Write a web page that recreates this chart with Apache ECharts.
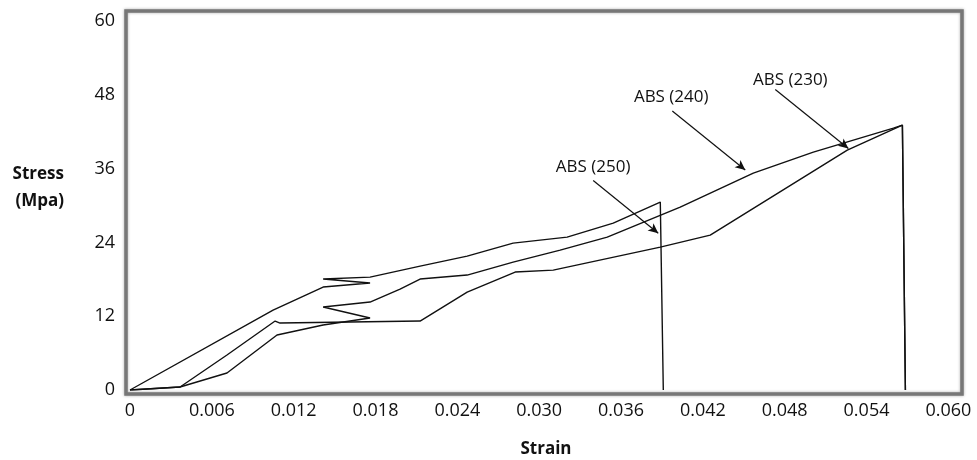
<!DOCTYPE html>
<html>
<head>
<meta charset="utf-8">
<script src="https://cdn.jsdelivr.net/npm/echarts@6/dist/echarts.min.js"></script>
<style>
  html, body { margin: 0; padding: 0; background: #fff; }
  #chart { width: 977px; height: 460px; }
</style>
</head>
<body>
<div id="chart"></div>
<script>
// Stress–strain curves of ABS specimens printed at three temperatures
const strain250 = [0, 0.01049, 0.01416, 0.01760, 0.01416, 0.01760, 0.02127, 0.02472, 0.02809, 0.03205, 0.03543, 0.03888, 0.03910];
const stress250 = [0, 13.0, 16.75, 17.40, 18.05, 18.37, 20.16, 21.79, 23.90, 24.88, 27.15, 30.57, 0];

const strain240 = [0, 0.00367, 0.00711, 0.01078, 0.01416, 0.01760, 0.01416, 0.01760, 0.01980, 0.02127, 0.02472, 0.02809, 0.03154, 0.03499, 0.04034, 0.04570, 0.05010, 0.05597, 0.05663, 0.05685];
const stress240 = [0, 0.49, 2.76, 8.94, 10.57, 11.71, 13.50, 14.31, 16.42, 18.05, 18.70, 20.81, 22.76, 24.88, 29.76, 35.28, 38.70, 42.60, 43.09, 0];

const strain230 = [0, 0.00367, 0.00711, 0.01064, 0.01100, 0.02127, 0.02472, 0.02824, 0.03103, 0.03888, 0.04254, 0.05259, 0.05663, 0.05685];
const stress230 = [0, 0.49, 5.69, 11.22, 10.89, 11.22, 15.93, 19.19, 19.51, 23.25, 25.20, 39.02, 43.09, 0];

// Callout labels with arrows: text anchor, arrow tail and arrow head (strain, stress)
const calloutText = ['ABS (250)', 'ABS (240)', 'ABS (230)'];
const calloutAt   = [[0.03396, 36.3], [0.03968, 47.6], [0.04841, 50.4]];
const arrowFrom   = [[0.03396, 34.1], [0.03976, 45.4], [0.04731, 48.9]];
const arrowTo     = [[0.03873, 25.5], [0.04511, 35.8], [0.05267, 39.3]];

// Axis ticks
const strainTicks = { min: 0, max: 0.061, step: 0.006 };
const stressTicks = { min: 0, max: 61.5, step: 12 };

const zip = (xs, ys) => xs.map((x, i) => [x, ys[i]]);

const FONT = '"Open Sans", "Noto Sans", sans-serif';
const TEXT = '#111';
const curveStyle = { color: '#111', width: 1.4 };

const chart = echarts.init(document.getElementById('chart'), null, { renderer: 'canvas' });

const curves = [
  ['ABS (250)', zip(strain250, stress250)],
  ['ABS (240)', zip(strain240, stress240)],
  ['ABS (230)', zip(strain230, stress230)]
].map(([name, data]) => ({
  name, type: 'line', data,
  showSymbol: false, symbol: 'none', smooth: false,
  lineStyle: curveStyle, silent: true, animation: false
}));

const option = {
  backgroundColor: '#fff',
  animation: false,
  grid: { left: 130, right: 15, top: 12, bottom: 70, containLabel: false, outerBoundsMode: 'none' },
  // Plot frame
  graphic: [{
    type: 'rect',
    shape: { x: 126, y: 11, width: 836, height: 383 },
    style: { fill: 'none', stroke: '#777', lineWidth: 3.5, shadowBlur: 3, shadowColor: 'rgba(0,0,0,0.35)' },
    z: 10
  }],
  xAxis: {
    type: 'value',
    min: strainTicks.min, max: strainTicks.max, interval: strainTicks.step,
    name: 'Strain', nameLocation: 'middle', nameGap: 51,
    nameTextStyle: { fontFamily: FONT, fontWeight: 'bold', fontSize: 17, color: TEXT },
    axisLine: { show: false }, axisTick: { show: false }, splitLine: { show: false },
    axisLabel: {
      margin: 12, fontFamily: FONT, fontSize: 18, color: TEXT,
      formatter: v => (Math.abs(v - strainTicks.max) < 1e-9 ? '' : (v === 0 ? '0' : v.toFixed(3)))
    }
  },
  yAxis: {
    type: 'value',
    min: stressTicks.min, max: stressTicks.max, interval: stressTicks.step,
    // trailing blank line lifts the two-line title slightly above the axis middle
    name: 'Stress\n(Mpa)\n ', nameLocation: 'middle', nameRotate: 0, nameGap: 66,
    nameTextStyle: { fontFamily: FONT, fontWeight: 'bold', fontSize: 17, color: TEXT, lineHeight: 27 },
    axisLine: { show: false }, axisTick: { show: false }, splitLine: { show: false },
    axisLabel: {
      margin: 15, fontFamily: FONT, fontSize: 18, color: TEXT,
      formatter: v => (Math.abs(v - stressTicks.max) < 1e-9 ? '' : String(v))
    }
  },
  series: curves.concat([{
    name: 'callouts', type: 'scatter',
    data: calloutText.map((t, i) => [calloutAt[i][0], calloutAt[i][1], t]),
    symbolSize: 0, silent: true,
    itemStyle: { opacity: 1 },
    label: {
      show: true, position: 'inside', formatter: p => p.data[2],
      fontFamily: FONT, fontSize: 17, color: TEXT, opacity: 1
    },
    markLine: {
      silent: true, animation: false,
      symbol: ['none', 'arrow'], symbolSize: [7, 10],
      lineStyle: { type: 'solid', color: '#111', width: 1.2, opacity: 1 },
      label: { show: false },
      data: arrowFrom.map((f, i) => [{ coord: f }, { coord: arrowTo[i] }])
    }
  }])
};

chart.setOption(option);
</script>
</body>
</html>
